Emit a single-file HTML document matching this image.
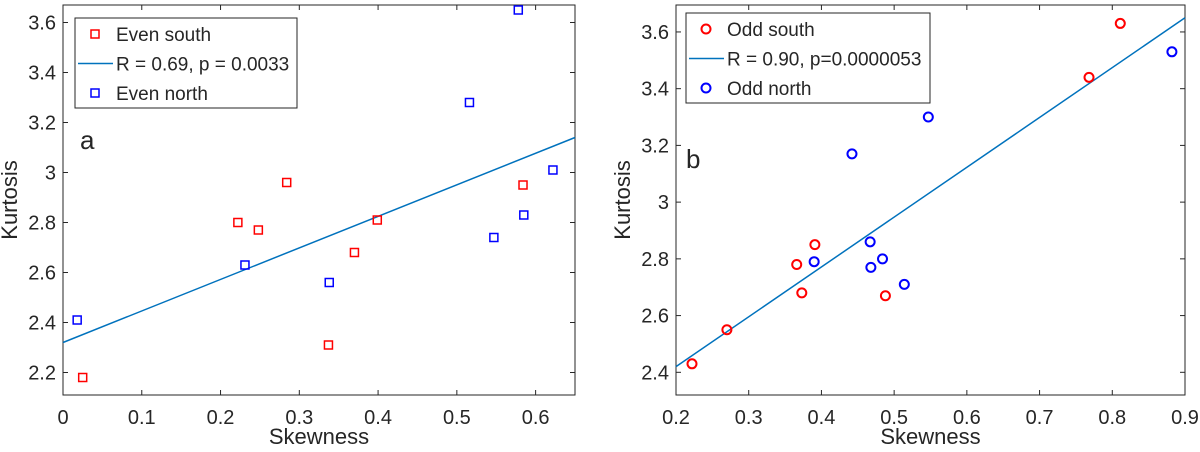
<!DOCTYPE html>
<html><head><meta charset="utf-8"><style>
body{margin:0;background:#fff;}
svg text{font-family:"Liberation Sans",Arial,sans-serif;fill:#262626;}
</style></head><body>
<svg id="c" width="1200" height="447" xmlns="http://www.w3.org/2000/svg"></svg>
<script>
const aXTicks=[0,0.1,0.2,0.3,0.4,0.5,0.6];
const aYTicks=[2.2,2.4,2.6,2.8,3,3.2,3.4,3.6];
const aSouthX=[0.025,0.222,0.248,0.284,0.337,0.370,0.399,0.584];
const aSouthY=[2.18,2.80,2.77,2.96,2.31,2.68,2.81,2.95];
const aNorthX=[0.018,0.231,0.338,0.516,0.547,0.578,0.585,0.622];
const aNorthY=[2.41,2.63,2.56,3.28,2.74,3.65,2.83,3.01];
const aFitX=[0,0.65];
const aFitY=[2.32,3.14];
const bXTicks=[0.2,0.3,0.4,0.5,0.6,0.7,0.8,0.9];
const bYTicks=[2.4,2.6,2.8,3,3.2,3.4,3.6];
const bSouthX=[0.222,0.270,0.366,0.373,0.391,0.488,0.768,0.811];
const bSouthY=[2.43,2.55,2.78,2.68,2.85,2.67,3.44,3.63];
const bNorthX=[0.390,0.442,0.467,0.468,0.484,0.514,0.547,0.882];
const bNorthY=[2.79,3.17,2.86,2.77,2.80,2.71,3.30,3.53];
const bFitX=[0.2,0.9];
const bFitY=[2.42,3.65];

const NS="http://www.w3.org/2000/svg";
const svg=document.getElementById('c');
function mk(tag,at,parent){const e=document.createElementNS(NS,tag);for(const k in at)e.setAttribute(k,at[k]);(parent||svg).appendChild(e);return e;}

function panel(o){
  const g=mk('g',{});
  
  
  const sx=v=>o.L+(v-o.x0)/(o.x1-o.x0)*(o.R-o.L);
  const sy=v=>o.B-(v-o.y0)/(o.y1-o.y0)*(o.B-o.T);
  const box=mk('rect',{x:o.L,y:o.T,width:o.R-o.L,height:o.B-o.T,fill:'none',stroke:'#262626','stroke-width':1},g);
  
  
  o.xt.forEach(v=>{const x=sx(v);
    mk('line',{x1:x,x2:x,y1:o.B,y2:o.B-5,stroke:'#262626'},g);
    mk('line',{x1:x,x2:x,y1:o.T,y2:o.T+5,stroke:'#262626'},g);
    const t=mk('text',{x:x,y:o.B+29,'text-anchor':'middle','font-size':20},g);t.textContent=String(v);
    
    });
  o.yt.forEach(v=>{const y=sy(v);
    mk('line',{x1:o.L,x2:o.L+5,y1:y,y2:y,stroke:'#262626'},g);
    mk('line',{x1:o.R,x2:o.R-5,y1:y,y2:y,stroke:'#262626'},g);
    const t=mk('text',{x:o.L-7,y:y+7,'text-anchor':'end','font-size':20},g);t.textContent=String(v);
    
    });
  const xl=mk('text',{x:(o.L+o.R)/2,y:444,'text-anchor':'middle','font-size':22},g);xl.textContent='Skewness';
  
  
  const yl=mk('text',{x:0,y:0,'text-anchor':'middle','font-size':22,transform:`translate(${o.L-46},${(o.T+o.B)/2}) rotate(-90)`},g);yl.textContent='Kurtosis';
  
  
  const fl=mk('line',{x1:sx(o.fx[0]),y1:sy(o.fy[0]),x2:sx(o.fx[1]),y2:sy(o.fy[1]),stroke:'#0072BD','stroke-width':1.5},g);
  
  
  function mark(x,y,col,nm){let e;
    if(o.circle) e=mk('circle',{cx:x,cy:y,r:4.5,fill:'none',stroke:col,'stroke-width':2},g);
    else e=mk('rect',{x:x-4,y:y-4,width:8,height:8,fill:'none',stroke:col,'stroke-width':1.5},g);
    
    }
  o.sX.forEach((v,i)=>mark(sx(v),sy(o.sY[i]),'#ff0000','south-point'));
  o.nX.forEach((v,i)=>mark(sx(v),sy(o.nY[i]),'#0000ff','north-point'));
  const lg=mk('g',{},g);
  
  
  mk('rect',{x:o.lx,y:o.ly,width:o.lw,height:90,fill:'#fff',stroke:'#262626'},lg);
  const rows=[o.l1,o.l2,o.l3];
  rows.forEach((txt,i)=>{const cy=o.ly+16+i*29.5;
    if(i==1) mk('line',{x1:o.lx+3,x2:o.lx+38,y1:cy,y2:cy,stroke:'#0072BD','stroke-width':1.5},lg);
    else mark(o.lx+20,cy,i==0?'#ff0000':'#0000ff','legend-marker');
    const t=mk('text',{x:o.lx+41,y:cy+7,'font-size':19},lg);t.textContent=txt;
    
    });
  const pl=mk('text',{x:o.px,y:o.py,'font-size':26,fill:'#000'},g);pl.textContent=o.label;
  
  
}
panel({name:'panel-a',L:63,R:575,T:5,B:395,x0:0,x1:0.65,y0:2.11,y1:3.67,xt:aXTicks,yt:aYTicks,
  sX:aSouthX,sY:aSouthY,nX:aNorthX,nY:aNorthY,fx:aFitX,fy:aFitY,circle:false,
  lx:75,ly:18,lw:222,l1:'Even south',l2:'R = 0.69, p = 0.0033',l3:'Even north',label:'a',px:80,py:149});
panel({name:'panel-b',L:676,R:1185,T:5,B:395,x0:0.2,x1:0.9,y0:2.32,y1:3.695,xt:bXTicks,yt:bYTicks,
  sX:bSouthX,sY:bSouthY,nX:bNorthX,nY:bNorthY,fx:bFitX,fy:bFitY,circle:true,
  lx:686,ly:13,lw:244,l1:'Odd south',l2:'R = 0.90, p=0.0000053',l3:'Odd north',label:'b',px:686,py:168});
</script>
</body></html>
